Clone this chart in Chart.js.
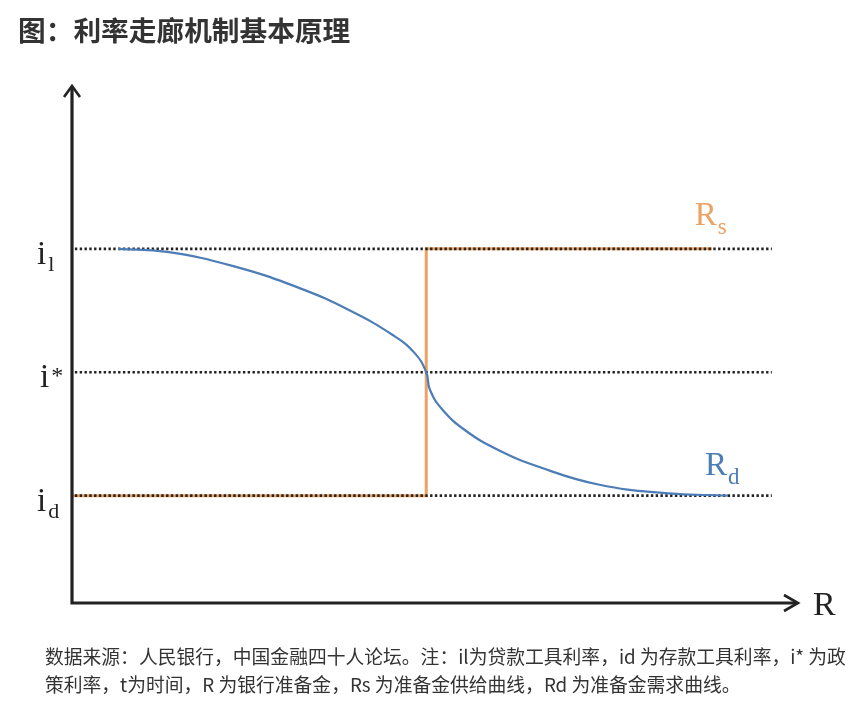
<!DOCTYPE html>
<html>
<head>
<meta charset="utf-8">
<script src="https://cdn.jsdelivr.net/npm/chart.js@4"></script>
<style>
  html, body { margin: 0; padding: 0; background: #fff; }
  body { width: 860px; height: 712px; position: relative; overflow: hidden;
         font-family: "Noto Sans CJK SC", "Noto Sans", sans-serif; }
  #title { position: absolute; left: 18px; top: 12px; font-size: 27.7px; font-weight: 700;
           color: #333; line-height: 34px; white-space: nowrap; }
  #note { position: absolute; left: 45px; top: 642px; font-size: 18.8px; color: #333;
          line-height: 28px; white-space: nowrap; }
  #wrap { position: absolute; left: 0; top: 0; width: 860px; height: 712px; }
</style>
</head>
<body>
<div id="wrap"><canvas id="corridor"></canvas></div>
<div id="title">图：利率走廊机制基本原理</div>
<div id="note">数据来源：人民银行，中国金融四十人论坛。注：il为贷款工具利率，id 为存款工具利率，i* 为政<br>策利率，t为时间，R 为银行准备金，Rs 为准备金供给曲线，Rd 为准备金需求曲线。</div>

<script>
/* ===== DATA ===== */
// rate levels: i_d (deposit), i* (policy), i_l (lending)
const levelValues = [1, 2, 3];
const levelMain = ['i', 'i', 'i'];
const levelScript = ['d', '*', 'l'];
const levelScriptSup = [false, true, false];

// dotted reference lines span
const dottedX = [0.4, 97.2];

// Rs: reserve supply (step)
const supplyX = [0.1, 49.2, 49.2, 88.9];
const supplyY = [1, 1, 3, 3];

// Rd: reserve demand curve
const demandX = [6.4, 13.2, 22.4, 31.7, 38.6, 44.6, 47.6, 49.2,
                 49.7, 51.4, 54.6, 59.2, 65.0, 73.1, 82.4, 91.1];
const demandY = [3.0, 2.975, 2.86, 2.68, 2.50, 2.30, 2.155, 2.0,
                 1.86, 1.70, 1.53, 1.37, 1.23, 1.09, 1.02, 1.0];

const seriesNames = ['R', 'R'];
const seriesSubs = ['s', 'd'];
const axisName = 'R';

const BLUE = '#4d7db6';
const ORANGE = '#eca264';
const INK = '#222';

const pts = (xs, ys) => xs.map((v, i) => ({ x: v, y: ys[i] }));

// Plugin: eixos com setas e rótulos
const corridorDecor = {
  id: 'corridorDecor',
  afterDatasetsDraw(chart) {
    const { ctx, chartArea: a, scales: { x, y } } = chart;
    const serif = '"Liberation Serif", "DejaVu Serif", serif';
    ctx.save();

    // axes
    const tipX = a.right + 6, tipY = a.top;
    ctx.strokeStyle = INK;
    ctx.lineWidth = 3.2;
    ctx.beginPath();
    ctx.moveTo(a.left, tipY + 1);
    ctx.lineTo(a.left, a.bottom);
    ctx.lineTo(tipX - 1, a.bottom);
    ctx.stroke();

    // arrow heads
    ctx.lineWidth = 2.6;
    ctx.lineJoin = 'miter';
    ctx.beginPath();
    ctx.moveTo(a.left - 8, tipY + 11);
    ctx.lineTo(a.left, tipY);
    ctx.lineTo(a.left + 8, tipY + 11);
    ctx.moveTo(tipX - 14, a.bottom - 8);
    ctx.lineTo(tipX, a.bottom);
    ctx.lineTo(tipX - 14, a.bottom + 8);
    ctx.stroke();

    // level labels
    ctx.fillStyle = INK;
    ctx.textBaseline = 'alphabetic';
    ctx.textAlign = 'left';
    levelValues.forEach((v, i) => {
      const py = y.getPixelForValue(v);
      const left = a.left - (levelScriptSup[i] ? 32 : 35);
      ctx.font = '33px ' + serif;
      ctx.fillText(levelMain[i], left, py + 15);
      const w = ctx.measureText(levelMain[i]).width;
      ctx.font = (levelScriptSup[i] ? '24px ' : '22px ') + serif;
      ctx.fillText(levelScript[i], left + w + 2, levelScriptSup[i] ? py + 11 : py + 22);
    });

    // series labels
    const drawName = (i, xv, yv, dy, color) => {
      const px = x.getPixelForValue(xv), py = y.getPixelForValue(yv) + dy;
      ctx.fillStyle = color;
      ctx.font = '33px ' + serif;
      ctx.fillText(seriesNames[i], px, py);
      const w = ctx.measureText(seriesNames[i]).width;
      ctx.font = '23px ' + serif;
      ctx.fillText(seriesSubs[i], px + w + 1, py + 9);
    };
    drawName(0, 86.5, 3, -24, ORANGE);
    drawName(1, 87.9, 1, -21, BLUE);

    // axis name
    ctx.fillStyle = INK;
    ctx.font = '34px ' + serif;
    ctx.fillText(axisName, tipX + 15, a.bottom + 12);

    ctx.restore();
  }
};

const dotted = v => ({
  data: pts(dottedX, [v, v]),
  borderColor: INK,
  borderWidth: 2.7,
  borderDash: [2.4, 2.4],
  pointRadius: 0,
  order: 1
});

new Chart(document.getElementById('corridor'), {
  type: 'line',
  data: {
    datasets: [
      ...levelValues.map(dotted),
      { data: pts(supplyX, supplyY), borderColor: ORANGE, borderWidth: 3, pointRadius: 0,
        tension: 0, order: 2 },
      { data: pts(demandX, demandY), borderColor: BLUE, borderWidth: 2.2, pointRadius: 0,
        tension: 0.45, order: 0 }
    ]
  },
  options: {
    responsive: true, maintainAspectRatio: false,
    animation: false,
    events: [],
    layout: { padding: { left: 72, right: 68, top: 86, bottom: 109 } },
    plugins: { legend: { display: false }, tooltip: { enabled: false } },
    scales: {
      x: { type: 'linear', min: 0, max: 100, display: false },
      y: { type: 'linear', min: 0.13, max: 4.32, display: false }
    }
  },
  plugins: [corridorDecor]
});
</script>
</body>
</html>
